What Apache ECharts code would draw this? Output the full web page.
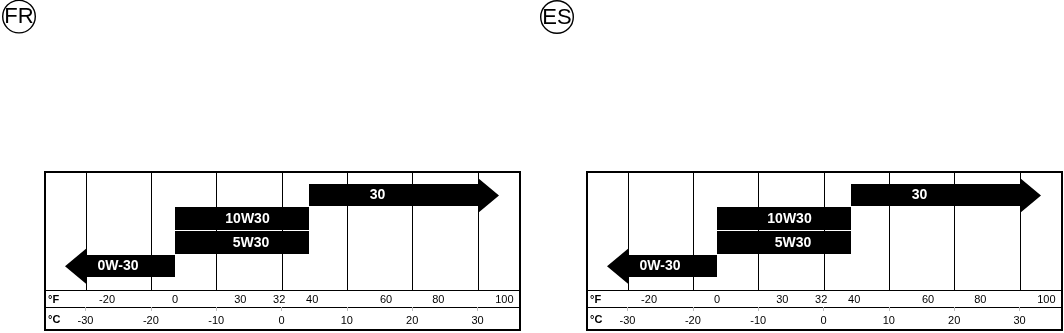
<!DOCTYPE html>
<html>
<head>
<meta charset="utf-8">
<script src="https://cdn.jsdelivr.net/npm/echarts@6/dist/echarts.min.js"></script>
<style>
html,body{margin:0;padding:0;background:#fff;}
#chart{width:1064px;height:333px;}
</style>
</head>
<body>
<div id="chart"></div>
<script>
// ---- data ----
const panelTags = ['FR', 'ES'];
const cTicks = [-30, -20, -10, 0, 10, 20, 30];            // °C scale
const fLabels = ['-20', '0', '30', '32', '40', '60', '80', '100'];
const fAt = [-26.7, -16.3, -6.3, -0.35, 4.7, 16.0, 24.0, 34.1]; // where each °F label sits on the °C scale
const grades = ['30', '10W30', '5W30', '0W-30'];
const gradeRow = [4, 3, 2, 1];
const gradeFrom = [4.2, -16.3, -16.3, -30];
const gradeTo = [30, 4.2, 4.2, -16.3];
const gradeArrow = ['right', '', '', 'left'];
const xMin = -36.2, xMax = 36.5;
const yMin = -1.7, yMax = 5;

// ---- styles ----
const panelLeft = [45, 587];
const tagCenter = [[19, 16.6], [557, 17]];
const labelDx = [-16, 5.5, 9, -12.5];
const HEAD_LEN = 21, HEAD_HALF = 17.5;
const FONT = '"Liberation Sans", Arial, Helvetica, sans-serif';

const chart = echarts.init(document.getElementById('chart'), null, {renderer: 'canvas'});

const grids = [], xAxes = [], yAxes = [], series = [], graphics = [];

panelTags.forEach((tag, p) => {
  grids.push({
    left: panelLeft[p], top: 172, width: 475, height: 158,
    show: true, borderColor: '#000', borderWidth: 2, backgroundColor: 'transparent',
    containLabel: false, outerBoundsMode: 'none'
  });
  const base = p * 3;
  // main (hidden) °C axis used by the marks
  xAxes.push({gridIndex: p, type: 'value', min: xMin, max: xMax, show: false});
  // °F row
  xAxes.push({
    gridIndex: p, type: 'value', min: xMin, max: xMax, position: 'bottom', offset: -40,
    axisLine: {show: true, lineStyle: {color: '#000', width: 1}},
    axisTick: {show: false}, splitLine: {show: false},
    axisLabel: {
      customValues: fAt, margin: 4, fontSize: 11, color: '#000', fontFamily: FONT,
      formatter: v => fLabels[fAt.indexOf(v)]
    },
    name: '°F', nameLocation: 'start', nameGap: -3,
    nameTextStyle: {align: 'left', verticalAlign: 'top', padding: [4, 0, 0, 0], fontSize: 11, fontWeight: 'bold', color: '#000', fontFamily: FONT}
  });
  // °C row
  xAxes.push({
    gridIndex: p, type: 'value', min: xMin, max: xMax, position: 'bottom', offset: -23,
    axisLine: {show: true, lineStyle: {color: '#000', width: 1}},
    axisTick: {show: true, customValues: cTicks, length: 4, lineStyle: {color: '#bbb', width: 1}},
    splitLine: {show: false},
    axisLabel: {customValues: cTicks, margin: 8, fontSize: 11, color: '#000', fontFamily: FONT},
    name: '°C', nameLocation: 'start', nameGap: -3,
    nameTextStyle: {align: 'left', verticalAlign: 'top', padding: [7, 0, 0, 0], fontSize: 11, fontWeight: 'bold', color: '#000', fontFamily: FONT}
  });
  yAxes.push({gridIndex: p, type: 'value', min: yMin, max: yMax, show: false});

  // vertical grid lines at the °C ticks
  series.push({
    type: 'custom', name: 'grid-' + tag, xAxisIndex: base, yAxisIndex: p, z: 1,
    silent: true,
    data: cTicks.map(v => [v]),
    encode: {x: 0},
    renderItem: (params, api) => {
      const a = api.coord([api.value(0), 0]);
      const b = api.coord([api.value(0), yMax]);
      const x = Math.round(a[0]) + 0.5;
      return {type: 'line', shape: {x1: x, y1: Math.round(a[1]), x2: x, y2: b[1]},
        style: {stroke: '#000', lineWidth: 1}};
    }
  });

  // grade bars / arrows
  series.push({
    type: 'custom', name: 'grades-' + tag, xAxisIndex: base, yAxisIndex: p, z: 5,
    data: grades.map((g, i) => [gradeFrom[i], gradeTo[i], gradeRow[i]]),
    encode: {x: [0, 1], y: 2},
    renderItem: (params, api) => {
      const i = params.dataIndex;
      const s = api.coord([api.value(0), api.value(2)]);
      const e = api.coord([api.value(1), api.value(2)]);
      const rowH = api.size([0, 1])[1];
      const yc = s[1];
      const top = Math.round(yc - rowH / 2);
      const bot = Math.round(yc + rowH / 2) - 1;
      const x0 = Math.round(s[0]), x1 = Math.round(e[0]);
      let pts;
      if (gradeArrow[i] === 'right') {
        pts = [[x0, top], [x1, top], [x1, yc - HEAD_HALF], [x1 + HEAD_LEN, yc], [x1, yc + HEAD_HALF], [x1, bot], [x0, bot]];
      } else if (gradeArrow[i] === 'left') {
        pts = [[x1, top], [x0, top], [x0, yc - HEAD_HALF], [x0 - HEAD_LEN, yc], [x0, yc + HEAD_HALF], [x0, bot], [x1, bot]];
      } else {
        pts = [[x0, top], [x1, top], [x1, bot], [x0, bot]];
      }
      return {
        type: 'group',
        children: [
          {type: 'polygon', shape: {points: pts}, style: {fill: '#000'}},
          {type: 'text', x: (x0 + x1) / 2 + labelDx[i], y: (top + bot) / 2 + 0.5,
            style: {text: grades[i], fill: '#fff', font: 'bold 14px ' + FONT, align: 'center', verticalAlign: 'middle'}}
        ]
      };
    }
  });

  // language tag in a circle
  const c = tagCenter[p];
  graphics.push({type: 'circle', shape: {cx: c[0], cy: c[1], r: 16.3}, style: {fill: 'none', stroke: '#000', lineWidth: 1.4}, silent: true});
  graphics.push({type: 'text', x: c[0], y: c[1] + 0.8, style: {text: tag, font: '22px ' + FONT, fill: '#000', align: 'center', verticalAlign: 'middle'}, silent: true});
});

chart.setOption({
  animation: false,
  backgroundColor: '#fff',
  grid: grids,
  xAxis: xAxes,
  yAxis: yAxes,
  series: series,
  graphic: graphics
});
</script>
</body>
</html>
